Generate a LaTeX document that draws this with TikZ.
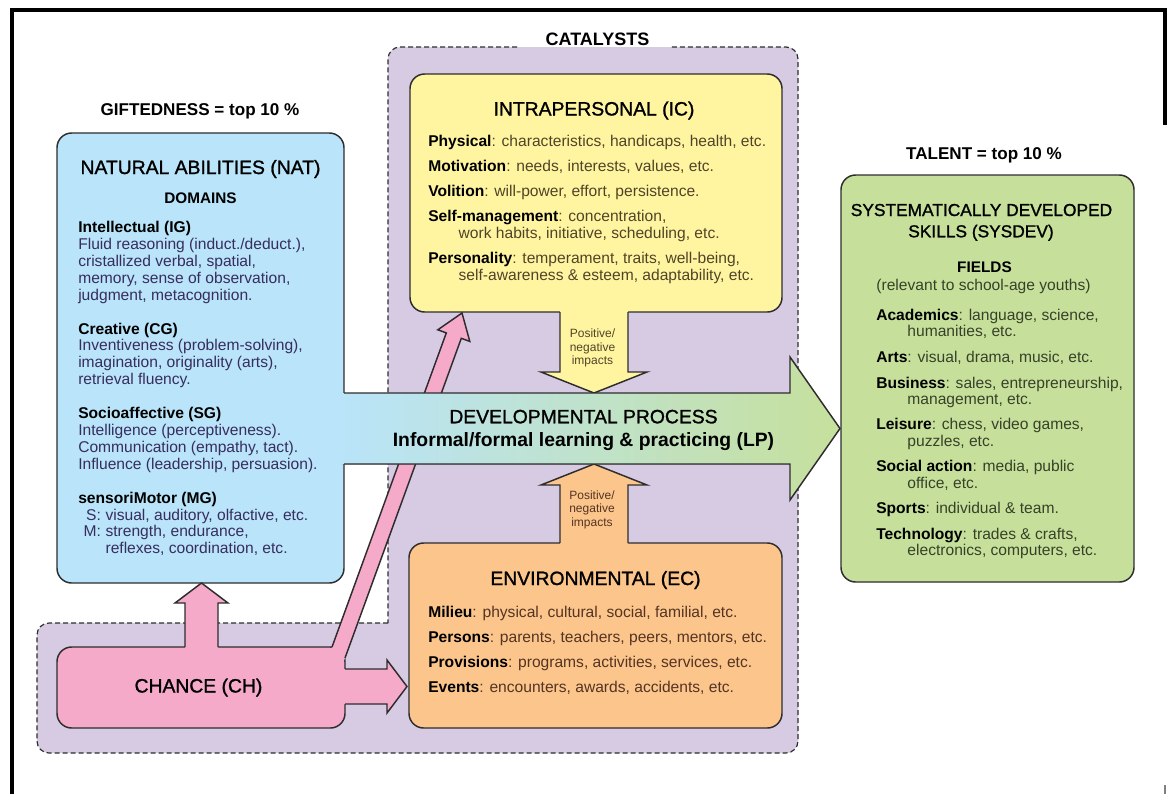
\documentclass[tikz,border=0pt]{standalone}
\usepackage{fontspec}
\setmainfont{Liberation Sans}
\newfontfamily\mediumfont{Liberation Sans}[FakeBold=1.2]
\usetikzlibrary{fit}

\definecolor{NatBlue}{RGB}{185,228,249}
\definecolor{IcYellow}{RGB}{255,245,160}
\definecolor{EcOrange}{RGB}{251,197,139}
\definecolor{SkillGreen}{RGB}{198,224,156}
\definecolor{ChancePink}{RGB}{245,170,202}
\definecolor{CatPurple}{RGB}{215,202,227}
\definecolor{ProcTeal}{RGB}{190,226,226}
\definecolor{EdgeGray}{RGB}{45,45,45}
\definecolor{BlueText}{RGB}{55,45,95}
\definecolor{YellowText}{RGB}{80,68,40}
\definecolor{OrangeText}{RGB}{85,52,35}
\definecolor{GreenText}{RGB}{55,65,40}

\newcommand{\itemkey}[1]{{\bfseries\color{black}#1}}

\tikzset
{
  FrameStyle/.style =
  {
    draw = black,
    line width = 3pt,
  },
  CatalystEdge/.style =
  {
    draw = EdgeGray,
    line width = 0.9pt,
    dash pattern = on 3.75pt off 2.25pt,
    rounded corners = 9pt,
  },
  BoxStyle/.style =
  {
    shape = rectangle,
    rounded corners = 11pt,
    draw = EdgeGray,
    line width = 1.1pt,
    inner sep = 0pt,
  },
  EdgeStyle/.style =
  {
    draw = EdgeGray,
    line width = 1.1pt,
    line join = miter,
  },
  TitleStyle/.style =
  {
    anchor = base,
    inner sep = 0pt,
    font = \mediumfont\fontsize{14.5}{17}\selectfont,
  },
  LabelStyle/.style =
  {
    anchor = base,
    inner sep = 0pt,
    font = \bfseries\fontsize{12.8}{15}\selectfont,
  },
  SubStyle/.style =
  {
    anchor = base,
    inner sep = 0pt,
    font = \bfseries\fontsize{11.5}{14}\selectfont,
  },
  ListStyle/.style =
  {
    anchor = north west,
    align = left,
    inner sep = 0pt,
    font = \fontsize{11.7}{12.6}\selectfont,
  },
  ImpactStyle/.style =
  {
    anchor = north,
    align = center,
    inner sep = 0pt,
    font = \fontsize{9}{10.1}\selectfont,
  },
}

\begin{document}
\begin{tikzpicture}[x=0.75pt, y=-0.75pt]
  \useasboundingbox (0,0) rectangle (1168,794);

  % outer frame
  \draw[FrameStyle] (11.5,794) -- (11.5,9.5) -- (1164.5,9.5) -- (1164.5,125);
  \draw[FrameStyle, draw=gray, line width=1.5pt] (1164.5,785) -- (1164.5,794);

  % catalysts area
  \fill[CatPurple, rounded corners=9pt] (388,47) rectangle (798,753);
  \fill[CatPurple, rounded corners=9pt] (37,623) rectangle (798,753);
  \draw[CatalystEdge] (517,47) -- (388,47) -- (388,623);
  \draw[CatalystEdge] (388,623) -- (37,623) -- (37,753) -- (798,753) -- (798,47) -- (670,47);

  % boxes
  \node[BoxStyle, fill=NatBlue, fit={(57,133) (344,583)}] (nat) {};
  \node[BoxStyle, fill=IcYellow, fit={(410,74) (782,312)}] (ic) {};
  \node[BoxStyle, fill=EcOrange, fit={(409,543) (782,728)}] (ec) {};
  \node[BoxStyle, fill=SkillGreen, fit={(841,175) (1134,582)}] (sysdev) {};
  \node[BoxStyle, fill=ChancePink, fit={(57,647) (345,728)}] (ch) {};

  % impacts of the catalysts
  \fill[IcYellow] (560,310) -- (560,372) -- (541,372) -- (594,393) -- (647,372) -- (628,372) -- (628,310) -- cycle;
  \draw[EdgeStyle] (560,312) -- (560,372) -- (541,372) -- (594,393) -- (647,372) -- (628,372) -- (628,312);
  \fill[EcOrange] (560,545) -- (560,485) -- (541,485) -- (594,464) -- (647,485) -- (628,485) -- (628,545) -- cycle;
  \draw[EdgeStyle] (560,543) -- (560,485) -- (541,485) -- (594,464) -- (647,485) -- (628,485) -- (628,543);

  % chance arrows
  \fill[ChancePink] (185,649) -- (185,603) -- (175,603) -- (201.5,583) -- (228,603) -- (218,603) -- (218,649) -- cycle;
  \draw[EdgeStyle] (185,647) -- (185,603) -- (175,603) -- (201.5,583) -- (228,603) -- (218,603) -- (218,647);
  \fill[ChancePink] (343,669) -- (387,669) -- (387,660) -- (407,686.5) -- (387,713) -- (387,704) -- (343,704) -- cycle;
  \draw[EdgeStyle] (345,669) -- (387,669) -- (387,660) -- (407,686.5) -- (387,713) -- (387,704) -- (345,704);
  \fill[ChancePink] (330.9,650) -- (446.3,332.9) -- (437.8,329.8) -- (462,313) -- (469.8,341.4) -- (461.3,338.3) -- (343,663.5) -- cycle;
  \draw[EdgeStyle] (332,647) -- (446.3,332.9) -- (437.8,329.8) -- (462,313) -- (469.8,341.4) -- (461.3,338.3) -- (345,658);

  % developmental process
  \fill[left color=NatBlue, middle color=ProcTeal, right color=SkillGreen]
    (342,393) -- (790,393) -- (790,357) -- (840,428.5) -- (790,500) -- (790,464) -- (342,464) -- cycle;
  \draw[EdgeStyle] (344,393) -- (790,393) -- (790,357) -- (840,428.5) -- (790,500) -- (790,464) -- (344,464);

  % labels
  \node[LabelStyle] (gifted) at (200,115) {GIFTEDNESS = top 10 \%};
  \node[LabelStyle, font=\bfseries\fontsize{13.5}{16}\selectfont] (catalysts) at (597.5,45) {CATALYSTS};
  \node[LabelStyle] (talent) at (984,159.3) {TALENT = top 10 \%};

  % natural abilities
  \node[TitleStyle] (natTitle) at (200.5,174) {NATURAL ABILITIES (NAT)};
  \node[SubStyle] (domains) at (200.5,203) {DOMAINS};
  \node[ListStyle, text=BlueText, font=\fontsize{11.7}{12.7}\selectfont] (natList) at (78,221)
  {
    \itemkey{Intellectual (IG)}\\
    Fluid reasoning (induct./deduct.),\\
    cristallized verbal, spatial,\\
    memory, sense of observation,\\
    judgment, metacognition.\\[12.6pt]
    \itemkey{Creative (CG)}\\
    Inventiveness (problem-solving),\\
    imagination, originality (arts),\\
    retrieval fluency.\\[12.6pt]
    \itemkey{Socioaffective (SG)}\\
    Intelligence (perceptiveness).\\
    Communication (empathy, tact).\\
    Influence (leadership, persuasion).\\[12.6pt]
    \itemkey{sensoriMotor (MG)}\\
    \makebox[1.45em][r]{S:}\hspace{0.3em}visual, auditory, olfactive, etc.\\
    \makebox[1.45em][r]{M:}\hspace{0.3em}strength, endurance,\\
    \hspace*{1.75em}reflexes, coordination, etc.
  };

  % intrapersonal
  \node[TitleStyle] (icTitle) at (594,115.5) {INTRAPERSONAL (IC)};
  \node[ListStyle, text=YellowText, font=\fontsize{11.7}{12.5}\selectfont] (icList) at (428,135.4)
  {
    \itemkey{Physical}: characteristics, handicaps, health, etc.\\[6.25pt]
    \itemkey{Motivation}: needs, interests, values, etc.\\[6.25pt]
    \itemkey{Volition}: will-power, effort, persistence.\\[6.25pt]
    \itemkey{Self-management}: concentration,\\
    \hspace*{1.95em}work habits, initiative, scheduling, etc.\\[6.25pt]
    \itemkey{Personality}: temperament, traits, well-being,\\
    \hspace*{1.95em}self-awareness \& esteem, adaptability, etc.
  };
  \node[ImpactStyle, text=YellowText] (icImpact) at (592.5,329) {Positive/\\negative\\impacts};

  % process
  \node[TitleStyle] (lpTitle) at (583.5,423.3) {DEVELOPMENTAL PROCESS};
  \node[TitleStyle, font=\bfseries\fontsize{14.5}{17}\selectfont] (lpSub) at (583.5,446.7) {Informal/formal learning \& practicing (LP)};

  % environmental
  \node[ImpactStyle, text=OrangeText] (ecImpact) at (592,490.4) {Positive/\\negative\\impacts};
  \node[TitleStyle] (ecTitle) at (595.5,585) {ENVIRONMENTAL (EC)};
  \node[ListStyle, text=OrangeText, font=\fontsize{11.7}{12.5}\selectfont] (ecList) at (428,606)
  {
    \itemkey{Milieu}: physical, cultural, social, familial, etc.\\[6.25pt]
    \itemkey{Persons}: parents, teachers, peers, mentors, etc.\\[6.25pt]
    \itemkey{Provisions}: programs, activities, services, etc.\\[6.25pt]
    \itemkey{Events}: encounters, awards, accidents, etc.
  };

  % chance
  \node[TitleStyle] (chTitle) at (198.5,692.5) {CHANCE (CH)};

  % talent
  \node[TitleStyle, font=\mediumfont\fontsize{13}{16}\selectfont] (skTitleA) at (981.5,216) {SYSTEMATICALLY DEVELOPED};
  \node[TitleStyle, font=\mediumfont\fontsize{13}{16}\selectfont] (skTitleB) at (981,237.3) {SKILLS (SYSDEV)};
  \node[SubStyle] (fields) at (984.5,272.7) {FIELDS};
  \node[TitleStyle, text=GreenText, font=\fontsize{11.7}{12.5}\selectfont] (relevant) at (983.5,290) {(relevant to school-age youths)};
  \node[ListStyle, text=GreenText, font=\fontsize{11.7}{12.2}\selectfont] (skList) at (876,309)
  {
    \itemkey{Academics}: language, science,\\
    \hspace*{2em}humanities, etc.\\[7pt]
    \itemkey{Arts}: visual, drama, music, etc.\\[7pt]
    \itemkey{Business}: sales, entrepreneurship,\\
    \hspace*{2em}management, etc.\\[7pt]
    \itemkey{Leisure}: chess, video games,\\
    \hspace*{2em}puzzles, etc.\\[7pt]
    \itemkey{Social action}: media, public\\
    \hspace*{2em}office, etc.\\[7pt]
    \itemkey{Sports}: individual \& team.\\[7pt]
    \itemkey{Technology}: trades \& crafts,\\
    \hspace*{2em}electronics, computers, etc.
  };
\end{tikzpicture}
\end{document}
